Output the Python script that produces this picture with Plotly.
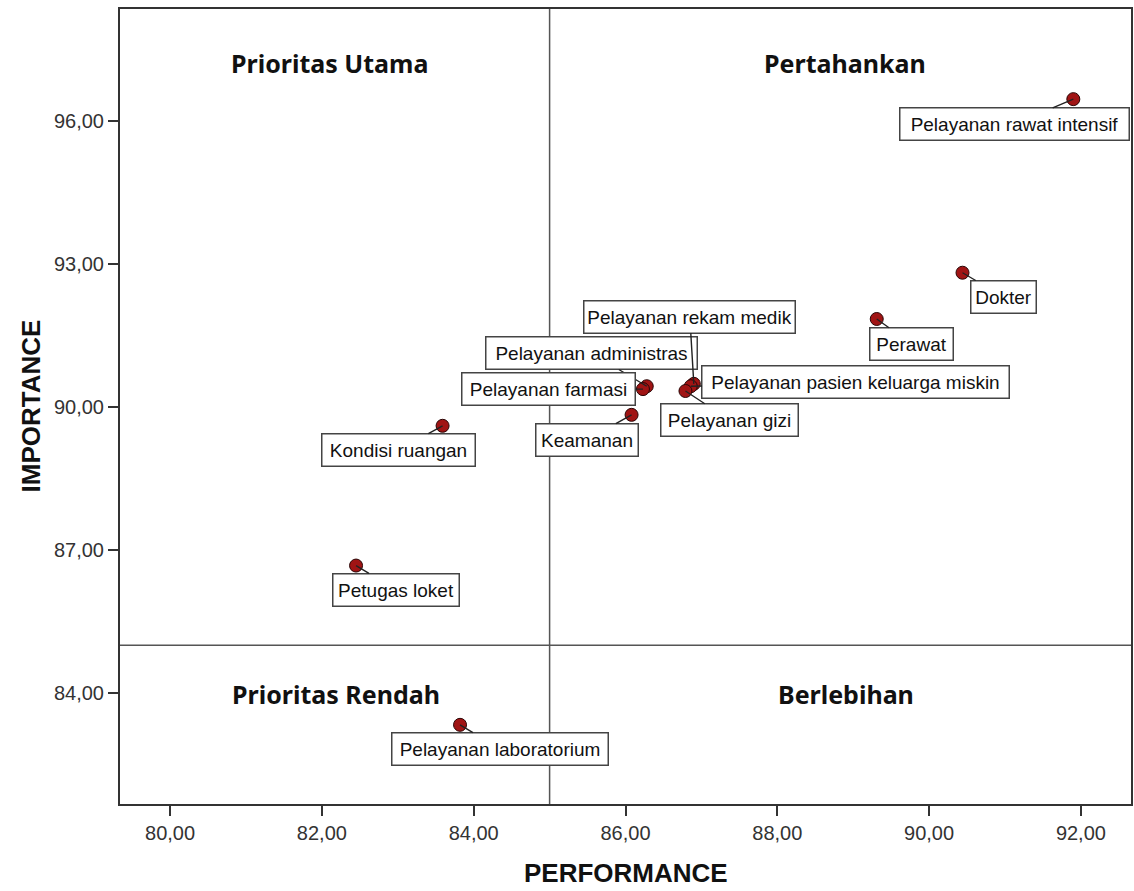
"""Importance-Performance matrix (IPA) for hospital services."""

import plotly.graph_objects as go

# --- data ---
services = [
    "Pelayanan rawat intensif",
    "Dokter",
    "Perawat",
    "Pelayanan administras",
    "Pelayanan farmasi",
    "Pelayanan rekam medik",
    "Pelayanan pasien keluarga miskin",
    "Keamanan",
    "Pelayanan gizi",
    "Kondisi ruangan",
    "Petugas loket",
    "Pelayanan laboratorium",
]
performance = [91.90, 90.44, 89.31, 86.28, 86.23, 86.90, 86.86, 86.08, 86.79, 83.59, 82.45, 83.82]
importance = [96.45, 92.81, 91.84, 90.43, 90.37, 90.48, 90.43, 89.83, 90.33, 89.60, 86.67, 83.33]

x_ticks = [80, 82, 84, 86, 88, 90, 92]
y_ticks = [84, 87, 90, 93, 96]
x_cut = 85.0
y_cut = 85.0

quadrants = ["Prioritas Utama", "Pertahankan", "Prioritas Rendah", "Berlebihan"]

# label placement (pixel offsets from the point, box width)
label_offsets = [
    (-59, 25, 230), (41, 24, 66), (35, 25, 84),
    (-55, -33, 212), (-94, 0, 174), (-4, -67, 212), (165, -4, 308), (-45, 25, 103),
    (44, 29, 138), (-44, 24, 154), (40, 24, 127), (40, 24, 217),
]
quad_pos = [(82.10, 97.20), (88.89, 97.20), (82.18, 83.97), (88.91, 83.97)]

FONT = "Liberation Sans, Arial, sans-serif"

fig = go.Figure()

fig.add_trace(go.Scatter(
    x=performance,
    y=importance,
    mode="markers",
    marker=dict(size=13, color="#a01414", line=dict(color="#2a0505", width=1)),
    hovertext=services,
    showlegend=False,
))

# reference lines at the means
fig.add_vline(x=x_cut, line_color="#555555", line_width=1.5)
fig.add_hline(y=y_cut, line_color="#555555", line_width=1.5)

# point labels
for name, px_, py_, (dx, dy, w) in zip(services, performance, importance, label_offsets):
    fig.add_annotation(
        x=px_, y=py_, text=name,
        showarrow=True, arrowhead=0, arrowwidth=1.4, arrowcolor="#222222",
        ax=dx, ay=dy,
        width=w - 8, height=25,
        bgcolor="white", bordercolor="#444444", borderwidth=1.5, borderpad=3,
        font=dict(family=FONT, size=19, color="#111111"),
    )

# quadrant titles
for name, (qx, qy) in zip(quadrants, quad_pos):
    fig.add_annotation(
        x=qx, y=qy, text=f"<b>{name}</b>", showarrow=False,
        xanchor="center", yanchor="middle",
        font=dict(family="Noto Sans, sans-serif", size=25, color="#111111"),
    )

# axis titles
fig.add_annotation(
    xref="paper", yref="paper", x=0.5, y=0, yshift=-69,
    text="<b>PERFORMANCE</b>", showarrow=False, yanchor="middle",
    font=dict(family=FONT, size=26, color="#111111"),
)
fig.add_annotation(
    xref="paper", yref="paper", x=0, y=0.5, xshift=-90,
    text="<b>IMPORTANCE</b>", showarrow=False, textangle=-90,
    xanchor="center", yanchor="middle",
    font=dict(family=FONT, size=26, color="#111111"),
)

fig.update_layout(
    width=1134,
    height=891,
    margin=dict(l=120, r=1, t=9, b=87),
    plot_bgcolor="white",
    paper_bgcolor="white",
    separators=",.",
    font=dict(family=FONT, size=20, color="#333333"),
)

fig.update_xaxes(
    range=[79.34, 92.66], tickvals=x_ticks, tickformat=".2f",
    showgrid=False, zeroline=False,
    showline=True, linecolor="#333333", linewidth=2, mirror=True,
    ticks="outside", ticklen=10, tickwidth=2, tickcolor="#333333",
)
fig.update_yaxes(
    range=[81.67, 98.34], tickvals=y_ticks, tickformat=".2f",
    showgrid=False, zeroline=False,
    showline=True, linecolor="#333333", linewidth=2, mirror=True,
    ticks="outside", ticklen=10, tickwidth=2, tickcolor="#333333",
)

# drop the default page margin so the figure sits at the window corner
fig.write_html(
    "out.html",
    config={"displayModeBar": False},
    post_script="document.body.style.margin = '0'; document.body.style.overflow = 'hidden';",
)
